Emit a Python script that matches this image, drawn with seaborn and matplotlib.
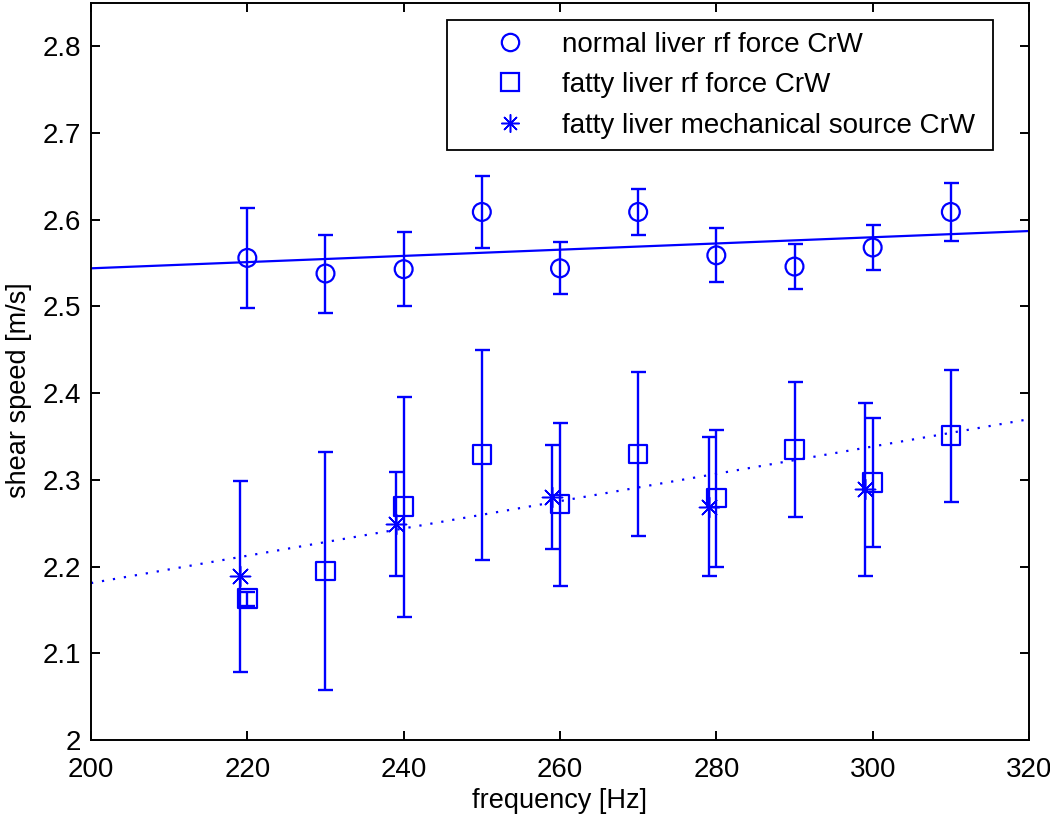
import numpy as np
import matplotlib
matplotlib.use("Agg")
import matplotlib.pyplot as plt
from matplotlib.lines import Line2D
import seaborn as sns

# ---- data ----
freq_normal = [220, 230, 240, 250, 260, 270, 280, 290, 300, 310]
speed_normal = [2.556, 2.538, 2.543, 2.609, 2.544, 2.609, 2.559, 2.546, 2.568, 2.609]
err_normal = [0.058, 0.045, 0.043, 0.041, 0.030, 0.026, 0.031, 0.026, 0.026, 0.033]

freq_fatty_rf = [220, 230, 240, 250, 260, 270, 280, 290, 300, 310]
speed_fatty_rf = [2.163, 2.195, 2.269, 2.329, 2.272, 2.330, 2.279, 2.335, 2.297, 2.351]
err_fatty_rf = [0.008, 0.137, 0.127, 0.121, 0.094, 0.095, 0.079, 0.078, 0.074, 0.076]

freq_fatty_mech = [219, 239, 259, 279, 299]
speed_fatty_mech = [2.189, 2.249, 2.280, 2.269, 2.289]
err_fatty_mech = [0.110, 0.060, 0.060, 0.080, 0.100]

fit_x = [200, 320]
fit_normal = [2.544, 2.587]
fit_fatty = [2.181, 2.370]

xticks = [200, 220, 240, 260, 280, 300, 320]
yticks = [2.0, 2.1, 2.2, 2.3, 2.4, 2.5, 2.6, 2.7, 2.8]
ytick_labels = ["2", "2.1", "2.2", "2.3", "2.4", "2.5", "2.6", "2.7", "2.8"]

labels = ["normal liver rf force CrW",
          "fatty liver rf force CrW",
          "fatty liver mechanical source CrW"]

# ---- style ----
sns.set_style("white")
plt.rcParams["font.family"] = ["Liberation Sans", "DejaVu Sans"]
plt.rcParams["text.color"] = "black"
plt.rcParams["axes.labelcolor"] = "black"

BLUE = (0, 0, 1)
ASTER = (8, 2, 0)

fig = plt.figure(figsize=(10.5, 8.19), dpi=100)
ax = fig.add_axes([91 / 1050, 79 / 819, 938 / 1050, 737 / 819])

# fit lines
sns.lineplot(x=fit_x, y=fit_normal, ax=ax, color=BLUE, linewidth=1.6)
sns.lineplot(x=fit_x, y=fit_fatty, ax=ax, color=BLUE, linewidth=1.6,
             linestyle=(0, (1, 4)))

# error bars
eb_kw = dict(fmt="none", ecolor=BLUE, elinewidth=1.7, capsize=5.4, capthick=1.7)
ax.errorbar(freq_normal, speed_normal, yerr=err_normal, **eb_kw)
ax.errorbar(freq_fatty_rf, speed_fatty_rf, yerr=err_fatty_rf, **eb_kw)
ax.errorbar(freq_fatty_mech, speed_fatty_mech, yerr=err_fatty_mech, **eb_kw)

# markers
sns.scatterplot(x=freq_normal, y=speed_normal, ax=ax, marker="o", s=165,
                facecolor="none", edgecolor=BLUE, linewidth=1.6, zorder=5)
sns.scatterplot(x=freq_fatty_rf, y=speed_fatty_rf, ax=ax, marker="s", s=180,
                facecolor="none", edgecolor=BLUE, linewidth=1.6, zorder=5)
sns.scatterplot(x=freq_fatty_mech, y=speed_fatty_mech, ax=ax, marker=ASTER, s=210,
                color=BLUE, edgecolor=BLUE, linewidth=1.1, zorder=5)

ax.set_xlim(200, 320)
ax.set_ylim(2.0, 2.85)
ax.set_xticks(xticks)
ax.set_xticklabels([str(v) for v in xticks])
ax.set_yticks(yticks)
ax.set_yticklabels(ytick_labels)

for s in ax.spines.values():
    s.set_visible(True)
    s.set_color("black")
    s.set_linewidth(1.4)

ax.tick_params(axis="both", which="major", direction="in", length=6.5, width=1.4,
               top=True, right=True, bottom=True, left=True,
               labelsize=20, colors="black")
ax.tick_params(axis="x", pad=12)
ax.tick_params(axis="y", pad=7)

ax.set_xlabel("frequency [Hz]", fontsize=19.5, labelpad=4)
ax.set_ylabel("shear speed [m/s]", fontsize=19.5)
ax.yaxis.set_label_coords(-0.063, 0.475)

handles = [
    Line2D([], [], linestyle="none", marker="o", markersize=12.5, markerfacecolor="none",
           markeredgecolor=BLUE, markeredgewidth=1.6),
    Line2D([], [], linestyle="none", marker="s", markersize=13, markerfacecolor="none",
           markeredgecolor=BLUE, markeredgewidth=1.6),
    Line2D([], [], linestyle="none", marker=ASTER, markersize=13, color=BLUE,
           markeredgewidth=1.1),
]
leg_x0, leg_x1 = 0.3795, 0.9616
leg_y1 = 0.977
leg = ax.legend(handles, labels, loc="upper left",
                bbox_to_anchor=(leg_x0, leg_y1 - 0.2, leg_x1 - leg_x0, 0.2), mode="expand",
                fontsize=20, frameon=True, fancybox=False, framealpha=1,
                edgecolor="black", handlelength=3.7, handletextpad=0.02,
                labelspacing=0.52, borderpad=0.42, borderaxespad=0)
leg.get_frame().set_linewidth(1.3)

fig.savefig("out.png", dpi=100)
